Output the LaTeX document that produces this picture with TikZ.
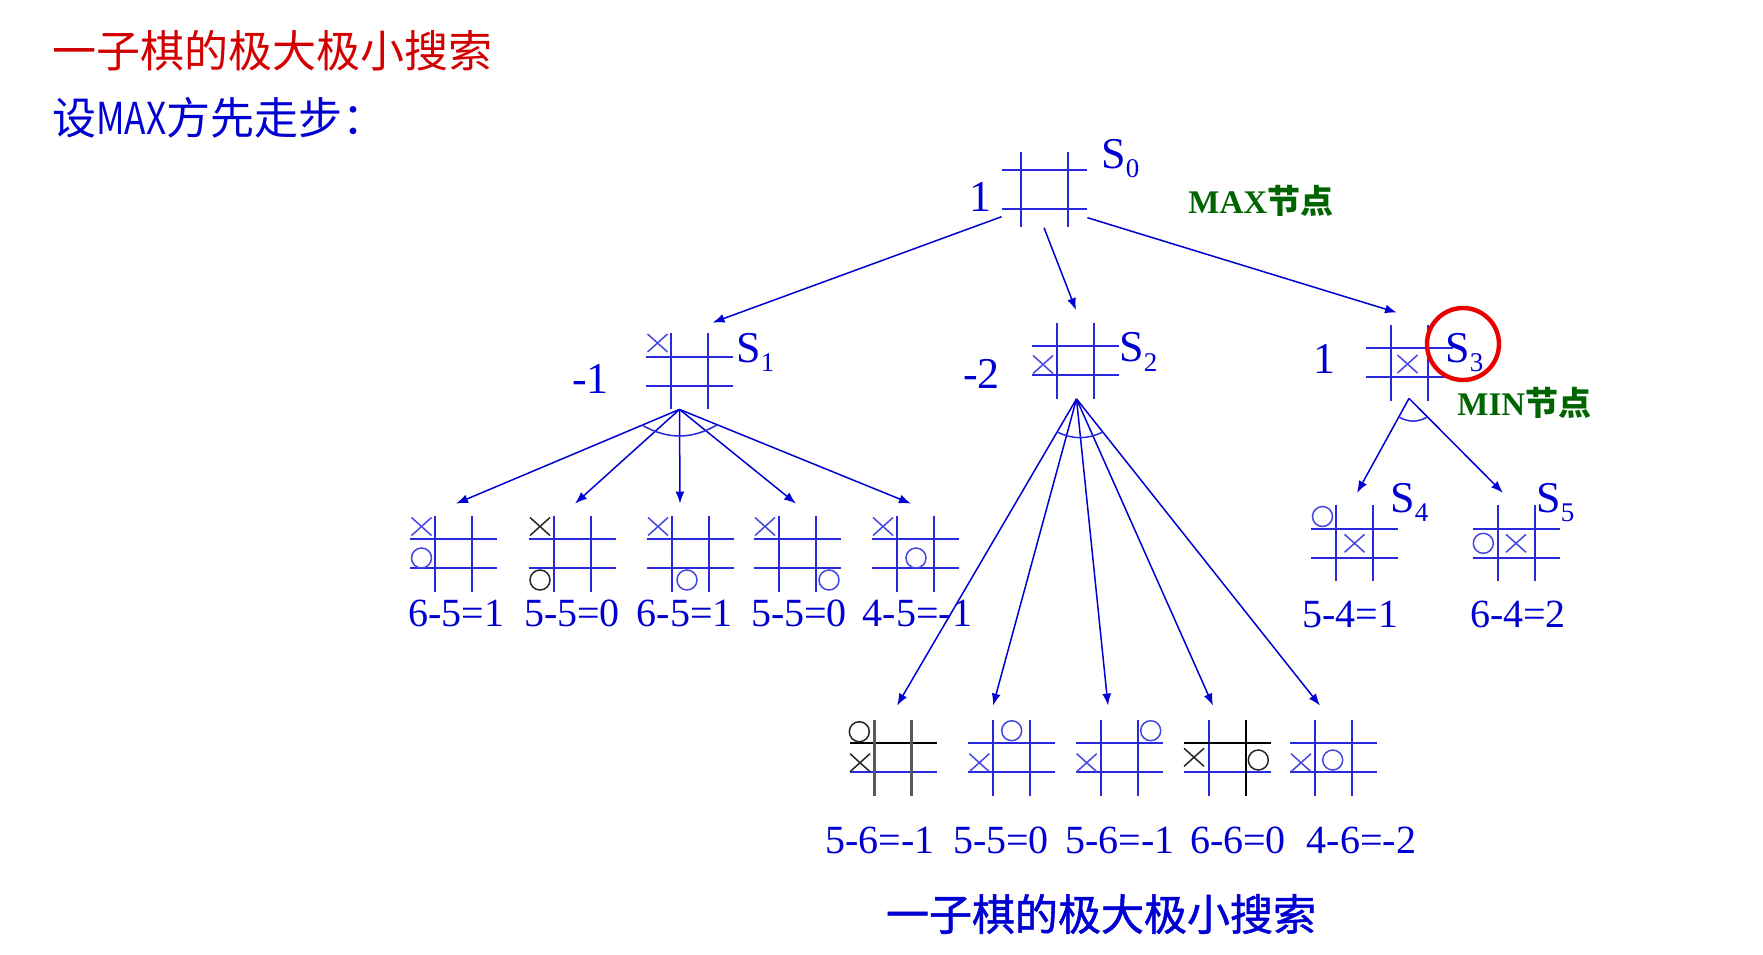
\documentclass[tikz,border=0pt]{standalone}
\usepackage{fontspec}
\setmainfont{Liberation Serif}
\newfontfamily\cjk{Noto Sans CJK SC}
\newfontfamily\cjkm[FakeBold=1.2]{Noto Sans CJK SC}
\usepackage{graphicx}
\usepackage{xcolor}
\usetikzlibrary{arrows.meta,calc}

\definecolor{tblue}{RGB}{0,0,210}
\definecolor{gblue}{RGB}{40,40,220}
\definecolor{mblue}{RGB}{70,70,225}
\definecolor{tred}{RGB}{210,0,0}
\definecolor{cred}{RGB}{235,0,0}
\definecolor{tgreen}{RGB}{0,100,0}

\tikzset{
  brd/.style={minimum width=43.5pt, minimum height=38pt, inner sep=0pt},
  grd/.style={draw=gblue, line width=1pt},
  mk/.style={line width=0.75pt},
  arr/.style={draw=tblue, line width=0.75pt, -{Latex[length=6pt,width=4.5pt]}},
  fanarc/.style={draw=gblue, line width=0.75pt},
  val/.style={text=tblue, inner sep=0pt, anchor=base, font=\fontsize{22}{22}\selectfont},
  res/.style={text=tblue, inner sep=0pt, anchor=base, font=\fontsize{20}{20}\selectfont},
  st/.style={text=tblue, inner sep=0pt, anchor=base west, font=\fontsize{22}{22}\selectfont},
  xm/.pic={\draw[mk] (-10,-9) -- (10,9) (-10,9) -- (10,-9);},
  om/.pic={\draw[mk] (0,0) circle[radius=5pt];}
}

% state label with index
\newcommand{\St}[1]{S\raisebox{-4.8pt}{\fontsize{13.5}{13.5}\selectfont #1}}
% board: name, position, marks
\newcommand{\tboard}[3]{%
  \node[brd] (#1) at (#2) {};
  \begin{scope}[shift={(#2)}, mblue]
    \draw[grd] (-43.5,-14.5) -- (43.5,-14.5) (-43.5,14.5) -- (43.5,14.5)
      (-18.5,-38) -- (-18.5,38) (18.5,-38) -- (18.5,38);
    #3
  \end{scope}}

\begin{document}
\begin{tikzpicture}[x=0.5pt, y=-0.5pt]
\useasboundingbox (0,0) rectangle (1763,954);

\node[anchor=west, inner sep=0pt, text=tred, font=\cjk\fontsize{22}{22}\selectfont] (title) at (52,51) {一子棋的极大极小搜索};
\node[anchor=west, inner sep=0pt, text=tblue, font=\cjk\fontsize{22}{22}\selectfont] (sub) at (52,118) {设\scalebox{0.8}[1]{MAX}方先走步：};

% root
\node[brd] (s0) at (1044.5,189.3) {};
\begin{scope}[shift={(s0)}]
  \draw[grd] (-42.8,-19.2) -- (42.8,-19.2) (-42.8,19.2) -- (42.8,19.2)
    (-23.8,-37.7) -- (-23.8,37.7) (23.8,-37.7) -- (23.8,37.7);
\end{scope}
\node[val] (v0) at (980.5,211) {1};
\node[st] (l0) at (1101,168) {\St{0}};
\node[anchor=base west, inner sep=0pt, text=tgreen, font=\bfseries\fontsize{16.5}{16.5}\selectfont] (maxn) at (1188,213) {MAX{\cjk 节点}};

% level 1
\tboard{s1}{689.5,371}{\pic at (-32,-28) {xm};}
\tboard{s2}{1075.5,360.5}{\pic at (-32.5,4) {xm};}
\tboard{s3}{1409,362.5}{\pic at (-1.5,1.5) {xm};}
\node[val] (v1) at (590.5,393) {-1};
\node[st] (l1) at (736,362) {\St{1}};
\node[val] (v2) at (981.5,388) {-2};
\node[st] (l2) at (1119,361.7) {\St{2}};
\node[val] (v3) at (1324,373) {1};
\node[st] (l3) at (1445,362) {\St{3}};
\node[circle, draw=cred, line width=2.2pt, minimum size=36pt, inner sep=0pt] (ring) at (1463,344) {};
\node[anchor=base west, inner sep=0pt, text=tgreen, font=\bfseries\fontsize{16.5}{16.5}\selectfont] (minn) at (1457,415) {MIN{\cjk 节点}};

\draw[arr] ($(s0.south west)+(1,-11)$) -- ($(s1.north)+(23,-10)$);
\draw[arr] ($(s0.south)+(-0.5,0)$) -- ($(s2.north)+(0.5,-12)$);
\draw[arr] ($(s0.south east)+(-1,-10)$) -- ($(s3.north)+(-12,-11.5)$);

% level 2 under S1
\tboard{c1}{453.5,553.5}{\pic at (-32,-27) {xm}; \pic at (-32,4.5) {om};}
\tboard{c2}{572,553.5}{\pic[black!85] at (-32,-27) {xm}; \pic[black!85] at (-32,26.5) {om};}
\tboard{c3}{690,553.5}{\pic at (-32,-27) {xm}; \pic at (-3,26.5) {om};}
\tboard{c4}{797,553.5}{\pic at (-32,-27) {xm}; \pic at (32,26.5) {om};}
\tboard{c5}{915,553.5}{\pic at (-32,-27) {xm}; \pic at (1,4.5) {om};}
\node[res] (r1) at (456.5,626.5) {6-5=1};
\node[res] (r2) at (572,626.5) {5-5=0};
\node[res] (r3) at (684.7,626.5) {6-5=1};
\node[res] (r4) at (799,626.5) {5-5=0};
\node[res] (r5) at (917.5,626.5) {4-5=-1};

\coordinate (s1a) at ($(s1.south)+(-10,0)$);
\foreach \nd/\dx in {c1/2.5, c2/3, c3/-10, c4/-1, c5/-4} {
  \coordinate (t\nd) at ($(\nd.north)+(\dx,-11.5)$);
  \draw[arr] (s1a) -- (t\nd);
}
\draw[fanarc] ($(s1a)!0.167!(tc1)$) to[bend right=30] ($(s1a)!0.163!(tc5)$);

% level 2 under S3
\tboard{c6}{1354.5,543}{\pic at (-32,-26.5) {om}; \pic at (0,0.3) {xm};}
\tboard{c7}{1516,543}{\pic at (-32.7,0.3) {om}; \pic at (0,0.3) {xm};}
\node[st] (l4) at (1390,512) {\St{4}};
\node[st] (l5) at (1536,512) {\St{5}};
\node[res] (r6) at (1350.5,627) {5-4=1};
\node[res] (r7) at (1518,627) {6-4=2};

\coordinate (s3a) at ($(s3.south)+(0,-2.5)$);
\foreach \nd/\dx in {c6/2.5, c7/-13} {
  \coordinate (t\nd) at ($(\nd.north)+(\dx,-11.7)$);
  \draw[arr] (s3a) -- (t\nd);
}
\draw[fanarc] ($(s3a)!0.196!(tc6)$) to[bend right=30] ($(s3a)!0.196!(tc7)$);

% level 3 under S2
\tboard{d1}{893,757.5}{
  \draw[line width=1pt, black] (-43.5,-14.5) -- (43.5,-14.5);
  \draw[line width=1.2pt, black!65] (-18.5,-38) -- (-18.5,38) (18.5,-38) -- (18.5,38);
  \pic[black!85] at (-33.7,-25.8) {om}; \pic[black!85] at (-33,5.2) {xm};}
\tboard{d2}{1011,757.5}{\pic at (0.7,-26.8) {om}; \pic at (-31.7,5.2) {xm};}
\tboard{d3}{1119,757.5}{\pic at (31.7,-26.8) {om}; \pic at (-32.3,5.2) {xm};}
\tboard{d4}{1227,757.5}{
  \draw[line width=1pt, black] (-43.5,-14.5) -- (43.5,-14.5) (18.5,-38) -- (18.5,38);
  \pic[black!85] at (-33,-0.2) {xm}; \pic[black!85] at (31.3,2.5) {om};}
\tboard{d5}{1333.5,757.5}{\pic at (-32.5,5.2) {xm}; \pic at (-0.8,2.5) {om};}
\node[res] (r8) at (880,853) {5-6=-1};
\node[res] (r9) at (1001,853) {5-5=0};
\node[res] (r10) at (1120,853) {5-6=-1};
\node[res] (r11) at (1238,853) {6-6=0};
\node[res] (r12) at (1361.5,853) {4-6=-2};

\coordinate (s2a) at ($(s2.south)+(1,0)$);
\foreach \nd/\dx in {d1/4, d2/-18, d3/-11, d4/-14, d5/-13.5} {
  \coordinate (t\nd) at ($(\nd.north)+(\dx,-13.5)$);
  \draw[arr] (s2a) -- (t\nd);
}
\draw[fanarc] ($(s2a)!0.108!(td1)$) to[bend right=25] ($(s2a)!0.108!(td5)$);

\node[text=tblue, inner sep=0pt, font=\cjkm\fontsize{21.5}{21.5}\selectfont] (cap) at (1101,914) {一子棋的极大极小搜索};

\end{tikzpicture}
\end{document}
